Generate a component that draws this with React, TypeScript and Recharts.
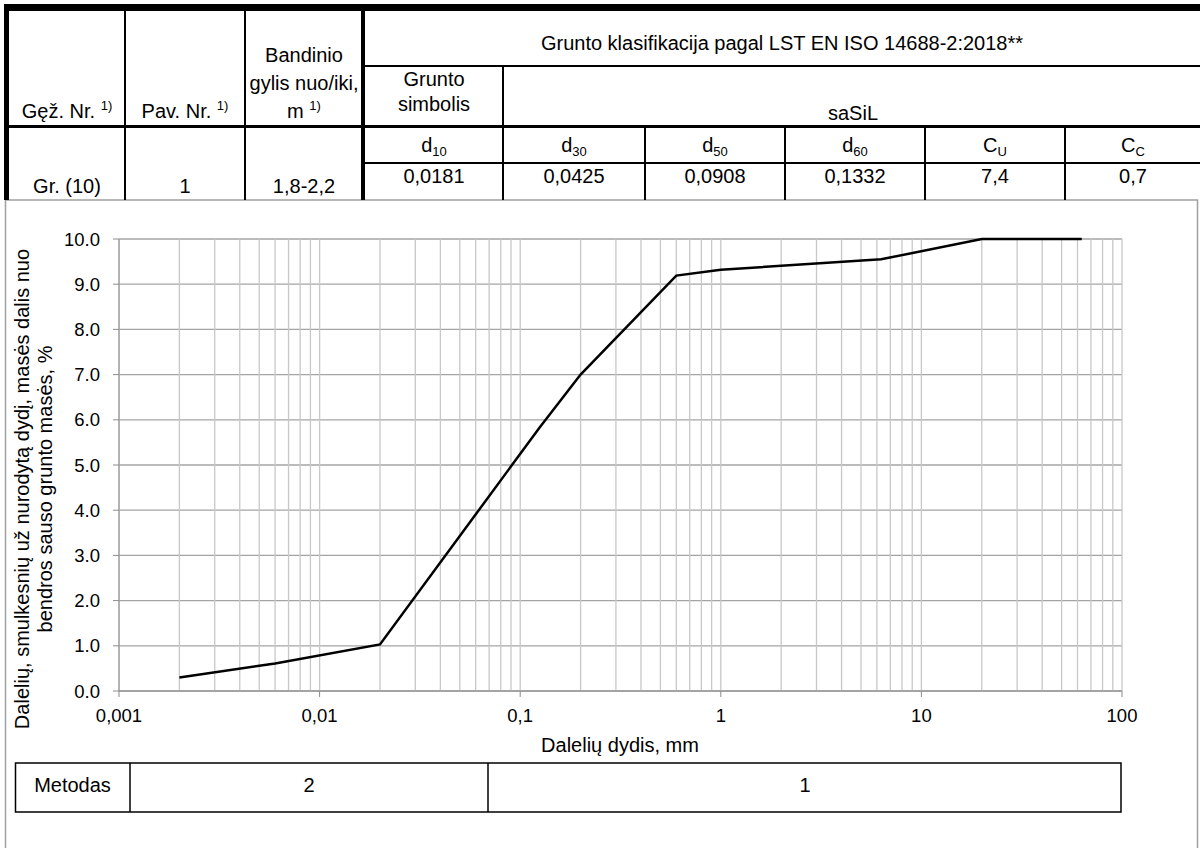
import React from 'react';
import { LineChart, Line, XAxis, YAxis, CartesianGrid, ReferenceLine } from 'recharts';

// particle size, mm
const sizes = [0.002, 0.006, 0.02, 0.125, 0.2, 0.6, 1, 6.3, 20, 63];
// passing
const passing = [0.3, 0.61, 1.03, 5.83, 7.0, 9.19, 9.32, 9.55, 10.0, 10.0];

const xTicks = [0.001, 0.01, 0.1, 1, 10, 100];
const yTicks = [0, 1, 2, 3, 4, 5, 6, 7, 8, 9, 10];
const decades = [0.001, 0.01, 0.1, 1, 10];
const multipliers = [1, 2, 3, 4, 5, 6, 7, 8, 9];
const gridX = [...decades.flatMap((d) => multipliers.map((m) => +(d * m).toPrecision(3))), 100];

const dLabels = [
  ['d', '10'],
  ['d', '30'],
  ['d', '50'],
  ['d', '60'],
  ['C', 'U'],
  ['C', 'C'],
];
const dValues = ['0,0181', '0,0425', '0,0908', '0,1332', '7,4', '0,7'];
const dCenters = [434, 574, 715, 855, 995, 1133];

const data = sizes.map((s, i) => ({ size: s, pass: passing[i] }));

const FONT = '"Liberation Sans", Arial, sans-serif';

function Background() {
  const blk = '#000';
  return (
    <svg width={1200} height={848} style={{ position: 'absolute', left: 0, top: 0 }} fontFamily={FONT} fontSize={20}>
      {/* chart frame */}
      <rect x={5.5} y={200} width={1192} height={700} fill="#fff" stroke="#a0a0a0" strokeWidth={1.5} />
      {/* top table */}
      <rect x={4} y={4} width={1196} height={7} fill={blk} />
      <rect x={4} y={4} width={5} height={196} fill={blk} />
      <rect x={124} y={11} width={2} height={189} fill={blk} />
      <rect x={244} y={11} width={2} height={189} fill={blk} />
      <rect x={361} y={11} width={4} height={189} fill={blk} />
      <rect x={365} y={65} width={835} height={2} fill={blk} />
      <rect x={9} y={125} width={1191} height={3} fill={blk} />
      <rect x={502} y={67} width={2} height={133} fill={blk} />
      <rect x={365} y={162} width={835} height={2} fill={blk} />
      {[645, 785, 925, 1065].map((x) => (
        <rect key={x} x={x - 1} y={128} width={2} height={72} fill={blk} />
      ))}
      <g fill="#000" textAnchor="middle">
        <text x={67} y={118}>
          Gęž. Nr. <tspan fontSize={13} dy={-8}>1)</tspan>
        </text>
        <text x={185} y={118}>
          Pav. Nr. <tspan fontSize={13} dy={-8}>1)</tspan>
        </text>
        <text x={304} y={62}>Bandinio</text>
        <text x={304} y={90}>gylis nuo/iki,</text>
        <text x={304} y={118}>
          m <tspan fontSize={13} dy={-8}>1)</tspan>
        </text>
        <text x={782} y={50}>Grunto klasifikacija pagal LST EN ISO 14688-2:2018**</text>
        <text x={434} y={86}>Grunto</text>
        <text x={434} y={111}>simbolis</text>
        <text x={853} y={120}>saSiL</text>
        {dLabels.map(([a, b], i) => (
          <text key={i} x={dCenters[i]} y={152}>
            {a}
            <tspan fontSize={13} dy={4}>{b}</tspan>
          </text>
        ))}
        {dValues.map((v, i) => (
          <text key={i} x={dCenters[i]} y={183}>
            {v}
          </text>
        ))}
        <text x={67} y={193}>Gr. (10)</text>
        <text x={185} y={193}>1</text>
        <text x={304} y={193}>1,8-2,2</text>
        {/* axis titles */}
        <text transform="rotate(-90 29 489)" x={29} y={489}>
          Dalelių, smulkesnių už nurodytą dydį, masės dalis nuo
        </text>
        <text transform="rotate(-90 52 489)" x={52} y={489}>
          bendros sauso grunto masės, %
        </text>
        <text x={620} y={752}>Dalelių dydis, mm</text>
        {/* method table */}
        <text x={72.5} y={792}>Metodas</text>
        <text x={309} y={792}>2</text>
        <text x={805} y={792}>1</text>
      </g>
      <rect x={15.5} y={763} width={1105.5} height={49} fill="none" stroke="#000" strokeWidth={1.5} />
      <line x1={130} y1={763} x2={130} y2={812} stroke="#000" strokeWidth={1.5} />
      <line x1={488} y1={763} x2={488} y2={812} stroke="#000" strokeWidth={1.5} />
    </svg>
  );
}

export default function App() {
  return (
    <div style={{ position: 'absolute', left: 0, top: 0, width: 1200, height: 848, overflow: 'hidden', background: '#fff' }}>
      <Background />
      <div style={{ position: 'absolute', left: 0, top: 0 }}>
        <LineChart
          width={1200}
          height={848}
          data={data}
          margin={{ top: 239, right: 78, bottom: 127, left: 59 }}
          style={{ fontFamily: FONT }}
        >
          <CartesianGrid vertical={false} stroke="#a4a4a4" strokeWidth={1.3} />
          {gridX.map((v) => (
            <ReferenceLine key={v} x={v} stroke="#c8c8c8" strokeWidth={1.3} />
          ))}
          <XAxis
            dataKey="size"
            type="number"
            scale="log"
            domain={[0.001, 100]}
            ticks={xTicks}
            allowDataOverflow
            height={30}
            tickSize={6}
            tickMargin={12}
            stroke="#8c8c8c"
            tick={{ fill: '#000', fontSize: 18.5 }}
            tickFormatter={(v: number) => String(v).replace('.', ',')}
          />
          <YAxis
            type="number"
            domain={[0, 10]}
            ticks={yTicks}
            width={60}
            tickSize={6}
            tickMargin={13}
            stroke="#8c8c8c"
            tick={{ fill: '#000', fontSize: 18.5 }}
            tickFormatter={(v: number) => v.toFixed(1)}
          />
          <Line
            dataKey="pass"
            type="linear"
            stroke="#000"
            strokeWidth={2.5}
            dot={false}
            isAnimationActive={false}
          />
        </LineChart>
      </div>
    </div>
  );
}
